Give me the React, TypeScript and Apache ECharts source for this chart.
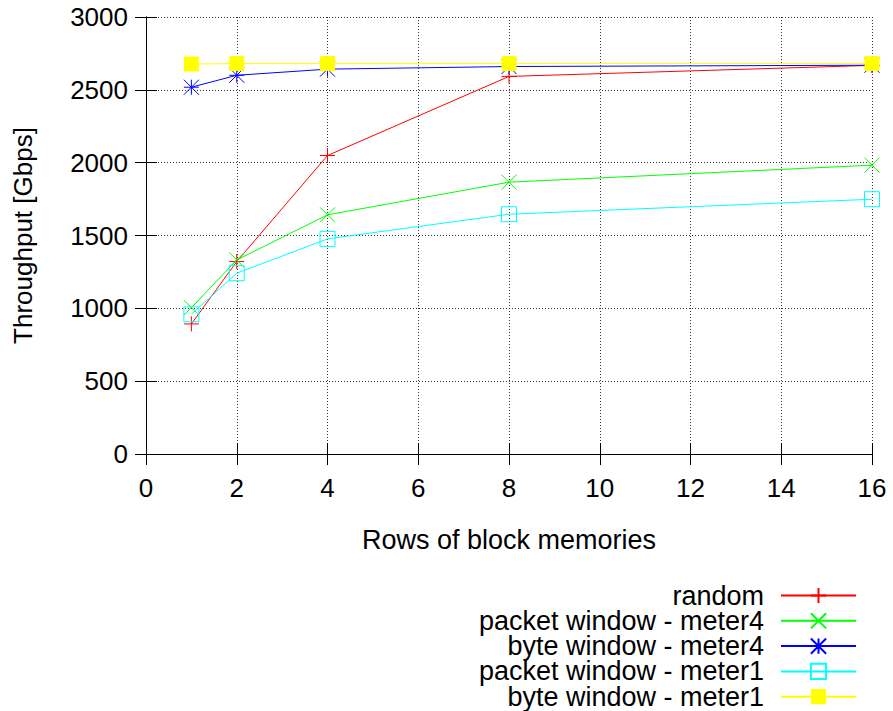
import React, { useEffect, useRef } from "react";
import * as echarts from "echarts";

// Rows of block memories (x) for every measurement
const rows = [1, 2, 4, 8, 16];

// Throughput in Gbps per configuration
const randomTp = [893, 1321, 2049, 2592, 2668];
const packetMeter4 = [1005, 1332, 1642, 1866, 1983];
const byteMeter4 = [2518, 2600, 2642, 2660, 2669];
const packetMeter1 = [959, 1241, 1477, 1646, 1749];
const byteMeter1 = [2677, 2680, 2680, 2680, 2680];

const seriesNames = [
  "random",
  "packet window - meter4",
  "byte window - meter4",
  "packet window - meter1",
  "byte window - meter1",
];

const FONT = "'Liberation Sans', Arial, Helvetica, sans-serif";

// gnuplot-style point shapes
const PLUS = "path://M0,-8L0,8M-8,0L8,0";
const CROSS = "path://M-8,-8L8,8M-8,8L8,-8";
const STAR = "path://M0,-8L0,8M-8,0L8,0M-8,-8L8,8M-8,8L8,-8";
const OPEN_SQUARE = "path://M-8,-8L8,-8L8,8L-8,8Z";

function makeSeries(
  name: string,
  values: number[],
  color: string,
  symbol: string,
  filled: boolean
) {
  return {
    name,
    type: "line",
    data: rows.map((r, i) => [r, values[i]]),
    symbol,
    symbolSize: 15,
    lineStyle: { color, width: 1 },
    itemStyle: {
      color: filled ? color : "rgba(0,0,0,0)",
      borderColor: color,
      borderWidth: filled ? 0 : 1,
    },
    emphasis: { disabled: true },
  };
}

// one key entry per legend box so the rows stack exactly like the plot key
function keyEntry(name: string, row: number) {
  return {
    orient: "vertical",
    right: 36,
    top: 582 + row * 25.3,
    padding: 0,
    align: "right",
    itemWidth: 75,
    itemHeight: 19,
    itemGap: 0,
    selectedMode: false,
    data: [name],
    textStyle: {
      color: "#000",
      fontSize: 27,
      fontFamily: FONT,
      lineHeight: 19,
      padding: [0, 12, 0, 0],
    },
  };
}

export default function App() {
  const ref = useRef<HTMLDivElement>(null);

  useEffect(() => {
    if (!ref.current) return;
    const chart = echarts.init(ref.current, undefined, { renderer: "svg" });

    const tickLabel = {
      color: "#000",
      fontSize: 26,
      fontFamily: FONT,
      formatter: (v: number) => String(v),
    };
    const gridLine = {
      show: true,
      lineStyle: { color: "#333", width: 1, type: [1, 2] as any },
    };
    const frameLine = { show: true, lineStyle: { color: "#000", width: 1 } };
    const innerTicks = { show: true, inside: true, length: 11, lineStyle: { color: "#000" } };

    chart.setOption({
      animation: false,
      backgroundColor: "#fff",
      grid: { left: 146, right: 21, top: 17, bottom: 257, containLabel: false },
      xAxis: [
        {
          type: "value",
          min: 0,
          max: 16,
          interval: 2,
          axisLine: frameLine,
          axisTick: innerTicks,
          axisLabel: { ...tickLabel, margin: 21 },
          splitLine: gridLine,
          name: "Rows of block memories",
          nameLocation: "middle",
          nameGap: 72,
          nameTextStyle: { color: "#000", fontSize: 27, fontFamily: FONT },
        },
        {
          type: "value",
          position: "top",
          min: 0,
          max: 16,
          interval: 2,
          axisLine: frameLine,
          axisTick: innerTicks,
          axisLabel: { show: false },
          splitLine: { show: false },
        },
      ],
      yAxis: [
        {
          type: "value",
          min: 0,
          max: 3000,
          interval: 500,
          axisLine: frameLine,
          axisTick: innerTicks,
          axisLabel: { ...tickLabel, margin: 18 },
          splitLine: gridLine,
          name: "Throughput [Gbps]",
          nameLocation: "middle",
          nameGap: 110,
          nameTextStyle: { color: "#000", fontSize: 26, fontFamily: FONT },
        },
        {
          type: "value",
          position: "right",
          min: 0,
          max: 3000,
          interval: 500,
          axisLine: frameLine,
          axisTick: innerTicks,
          axisLabel: { show: false },
          splitLine: { show: false },
        },
      ],
      legend: seriesNames.map((n, i) => keyEntry(n, i)),
      series: [
        makeSeries(seriesNames[0], randomTp, "#ff0000", PLUS, false),
        makeSeries(seriesNames[1], packetMeter4, "#00ff00", CROSS, false),
        makeSeries(seriesNames[2], byteMeter4, "#0000ff", STAR, false),
        makeSeries(seriesNames[3], packetMeter1, "#00ffff", OPEN_SQUARE, false),
        makeSeries(seriesNames[4], byteMeter1, "#ffff00", "rect", true),
      ],
    });

    return () => chart.dispose();
  }, []);

  return <div ref={ref} style={{ width: 893, height: 711, position: "absolute", left: 0, top: 0 }} />;
}
